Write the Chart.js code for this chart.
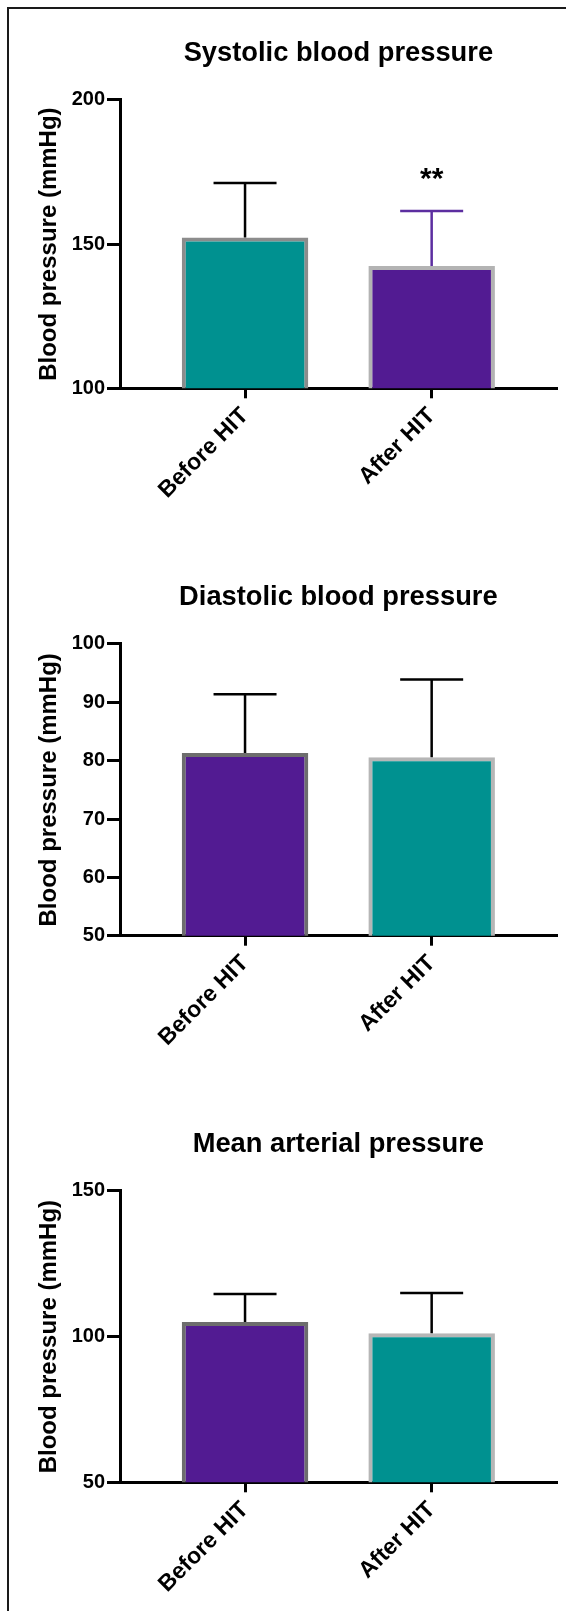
<!DOCTYPE html>
<html>
<head>
<meta charset="utf-8">
<title>Blood pressure before and after HIT</title>
<script src="https://cdn.jsdelivr.net/npm/chart.js@4.4.1/dist/chart.umd.min.js"></script>
<style>
    html, body { margin: 0; padding: 0; background: #fff; overflow: hidden; }
    #page { position: relative; width: 566px; height: 1611px; }
    .frame {
        position: absolute; left: 7px; top: 7px; right: 0; bottom: 0;
        border-top: 2px solid #1a1a1a; border-left: 2px solid #1a1a1a;
    }
    canvas { position: absolute; left: 0; }
</style>
</head>
<body>
<div id="page">
    <div class="frame"></div>
    <canvas id="sysChart" width="566" height="520" style="top:0px"></canvas>
    <canvas id="diaChart" width="566" height="520" style="top:544px"></canvas>
    <canvas id="mapChart" width="566" height="520" style="top:1091px"></canvas>
</div>

<script>
// ===== DATA =====
const categories = ['Before HIT', 'After HIT'];

const systolicMean = [152.3, 142.4];
const systolicSd = [18.9, 19.1];
const systolicSig = ['', '**'];
const systolicTicks = [100, 150, 200];

const diastolicMean = [81.3, 80.6];
const diastolicSd = [10.1, 13.3];
const diastolicTicks = [50, 60, 70, 80, 90, 100];

const mapMean = [105.0, 101.2];
const mapSd = [9.6, 13.8];
const mapTicks = [50, 100, 150];

// ===== COLOURS =====
const TEAL = '#009190';
const PURPLE = '#521b92';
const FONT = "'Liberation Sans', Arial, Helvetica, sans-serif";

// ===== ERROR BARS (upper SD only) =====
function makeErrorBars(means, sds, colors, marks) {
    return {
        id: 'errorBars',
        afterDatasetsDraw(chart) {
            const { ctx } = chart;
            const x = chart.scales.x;
            const y = chart.scales.y;
            ctx.save();
            means.forEach((m, i) => {
                const px = x.getPixelForValue(i + 1);
                const base = y.getPixelForValue(m);
                const top = y.getPixelForValue(m + sds[i]);
                ctx.strokeStyle = colors[i];
                ctx.lineWidth = 2.5;
                ctx.beginPath();
                ctx.moveTo(px, base);
                ctx.lineTo(px, top);
                ctx.moveTo(px - 31.5, top);
                ctx.lineTo(px + 31.5, top);
                ctx.stroke();

                // significance stars above the error bar
                if (marks && marks[i]) {
                    ctx.fillStyle = '#000';
                    ctx.font = 'bold 30px ' + FONT;
                    ctx.textAlign = 'center';
                    ctx.textBaseline = 'alphabetic';
                    ctx.fillText(marks[i], px, top - 23);
                }
            });
            ctx.restore();
        }
    };
}

// ===== CHART BUILDER =====
function makeBarChart(id, cfg) {
    const ctx = document.getElementById(id);
    const points = cfg.means.map((v, i) => ({ x: i + 1, y: v }));

    return new Chart(ctx, {
        type: 'bar',
        data: {
            datasets: [{
                data: points,
                backgroundColor: cfg.fills,
                borderColor: cfg.borders,
                borderWidth: 4,
                borderSkipped: 'start',
                barPercentage: 0.678,
                categoryPercentage: 1
            }]
        },
        options: {
            responsive: false,
            animation: false,
            layout: {
                padding: { left: 0, right: 9.3, top: 0, bottom: cfg.padBottom }
            },
            plugins: {
                legend: { display: false },
                tooltip: { enabled: false },
                title: {
                    display: true,
                    text: cfg.title,
                    fullSize: false,
                    color: '#000',
                    font: { family: FONT, size: 27.3, weight: 'bold' },
                    padding: { top: 37, bottom: 30.2 }
                }
            },
            scales: {
                x: {
                    type: 'linear',
                    min: 0.33,
                    max: 2.67,
                    offset: false,
                    afterBuildTicks: (scale) => {
                        scale.ticks = categories.map((c, i) => ({ value: i + 1 }));
                    },
                    afterFit: (scale) => { scale.height = 120; },
                    ticks: {
                        autoSkip: false,
                        minRotation: 45,
                        maxRotation: 45,
                        padding: 4,
                        color: '#000',
                        font: { family: FONT, size: 23, weight: 'bold' },
                        callback: (value) => categories[value - 1]
                    },
                    grid: {
                        display: true,
                        offset: false,
                        drawOnChartArea: false,
                        drawTicks: true,
                        tickLength: 10,
                        lineWidth: 3,
                        color: '#000'
                    },
                    border: { display: true, color: '#000', width: 3 }
                },
                y: {
                    min: cfg.ticks[0],
                    max: cfg.ticks[cfg.ticks.length - 1],
                    afterBuildTicks: (scale) => {
                        scale.ticks = cfg.ticks.map(v => ({ value: v }));
                    },
                    afterFit: (scale) => { scale.width = 120; },
                    ticks: {
                        padding: 2,
                        color: '#000',
                        font: { family: FONT, size: 20, weight: 'bold' }
                    },
                    grid: {
                        display: true,
                        drawOnChartArea: false,
                        drawTicks: true,
                        tickLength: 13,
                        lineWidth: 3,
                        color: '#000'
                    },
                    border: { display: true, color: '#000', width: 3 },
                    title: {
                        display: true,
                        text: 'Blood pressure (mmHg)',
                        color: '#000',
                        font: { family: FONT, size: 24, weight: 'bold' },
                        padding: { top: 35, bottom: 0 }
                    }
                }
            }
        },
        plugins: [makeErrorBars(cfg.means, cfg.sds, cfg.errColors, cfg.marks)]
    });
}

// ===== INITIALIZE ON LOAD =====
document.addEventListener('DOMContentLoaded', () => {
    makeBarChart('sysChart', {
        title: 'Systolic blood pressure',
        means: systolicMean,
        sds: systolicSd,
        marks: systolicSig,
        ticks: systolicTicks,
        fills: [TEAL, PURPLE],
        borders: ['#8c8c8c', '#b3b3b3'],
        errColors: ['#000', '#5c2ea0'],
        padBottom: 11.7
    });

    makeBarChart('diaChart', {
        title: 'Diastolic blood pressure',
        means: diastolicMean,
        sds: diastolicSd,
        marks: null,
        ticks: diastolicTicks,
        fills: [PURPLE, TEAL],
        borders: ['#6d6d6d', '#b6b6b6'],
        errColors: ['#000', '#000'],
        padBottom: 8.3
    });

    makeBarChart('mapChart', {
        title: 'Mean arterial pressure',
        means: mapMean,
        sds: mapSd,
        marks: null,
        ticks: mapTicks,
        fills: [PURPLE, TEAL],
        borders: ['#6d6d6d', '#b6b6b6'],
        errColors: ['#000', '#000'],
        padBottom: 8.7
    });
});
</script>
</body>
</html>
